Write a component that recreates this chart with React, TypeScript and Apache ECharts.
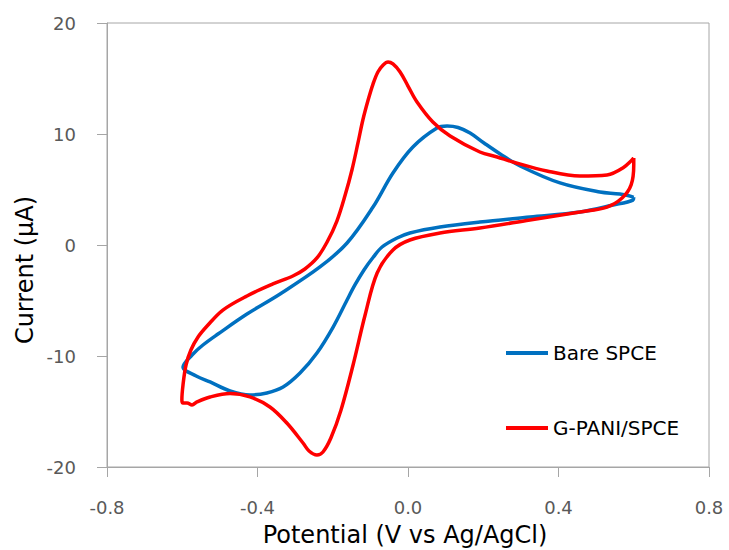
import React, { useEffect, useRef } from "react";
import * as echarts from "echarts";

// Cyclic voltammograms: potential (V vs Ag/AgCl) and current (µA), one full sweep each,
// starting at the +0.6 V vertex, running the cathodic branch, then the anodic branch back.
const bareV = [0.6, 0.598, 0.545, 0.457, 0.324, 0.191, 0.085, 0.005, -0.029, -0.069, -0.092, -0.117, -0.141, -0.162, -0.199, -0.242, -0.287, -0.332, -0.375, -0.42, -0.473, -0.526, -0.563, -0.598, -0.574, -0.545, -0.505, -0.428, -0.34, -0.234, -0.162, -0.093, -0.04, 0.013, 0.077, 0.104, 0.133, 0.165, 0.202, 0.245, 0.298, 0.404, 0.51, 0.563, 0.6];
const bareI = [4.3, 4.05, 3.6, 2.97, 2.52, 2.07, 1.62, 1.08, 0.63, -0.18, -1.08, -2.25, -3.6, -4.95, -7.39, -9.73, -11.53, -12.79, -13.33, -13.51, -13.15, -12.34, -11.8, -11.0, -9.91, -9.01, -8.02, -6.22, -4.41, -1.98, 0.18, 3.42, 6.49, 8.83, 10.54, 10.72, 10.59, 10.09, 9.19, 8.2, 7.12, 5.59, 4.77, 4.59, 4.3];

const gpaniV = [0.6, 0.6, 0.593, 0.569, 0.529, 0.457, 0.324, 0.191, 0.085, 0.005, -0.04, -0.082, -0.114, -0.146, -0.178, -0.205, -0.226, -0.242, -0.263, -0.279, -0.322, -0.367, -0.42, -0.473, -0.526, -0.561, -0.574, -0.587, -0.598, -0.601, -0.598, -0.59, -0.577, -0.558, -0.534, -0.492, -0.428, -0.359, -0.306, -0.274, -0.242, -0.215, -0.189, -0.167, -0.149, -0.133, -0.12, -0.106, -0.093, -0.08, -0.066, -0.053, -0.04, -0.021, 0.0, 0.024, 0.066, 0.112, 0.191, 0.237, 0.279, 0.369, 0.457, 0.529, 0.571, 0.6];
const gpaniI = [7.84, 7.21, 5.41, 4.23, 3.42, 2.97, 2.25, 1.53, 1.08, 0.45, -0.45, -2.52, -6.31, -10.81, -14.86, -17.39, -18.65, -18.92, -18.56, -17.84, -16.04, -14.59, -13.69, -13.38, -13.69, -14.14, -14.41, -14.23, -14.23, -13.96, -12.61, -10.81, -9.46, -8.29, -7.3, -5.86, -4.59, -3.51, -2.79, -2.16, -1.17, 0.27, 2.16, 4.5, 6.76, 9.19, 11.26, 13.06, 14.5, 15.59, 16.22, 16.49, 16.31, 15.59, 14.32, 12.88, 11.08, 9.82, 8.38, 7.93, 7.48, 6.67, 6.22, 6.31, 6.94, 7.84];

const seriesNames = ["Bare SPCE", "G-PANI/SPCE"];
const seriesColors = ["#0070C0", "#FF0000"];

const xTitle = "Potential (V vs Ag/AgCl)";
const yTitle = "Current (\u03BCA)";

const zip = (xs: number[], ys: number[]) => xs.map((x, i) => [x, ys[i]]);

const FONT = "'DejaVu Sans', 'Noto Sans', sans-serif";
const AXIS_GRAY = "#A6A6A6";
const LABEL_GRAY = "#595959";

export default function App() {
  const ref = useRef<HTMLDivElement>(null);

  useEffect(() => {
    if (!ref.current) return;
    const chart = echarts.init(ref.current, undefined, { renderer: "svg" });

    const lineSeries = (name: string, color: string, data: number[][]) => ({
      name,
      type: "line",
      data,
      showSymbol: false,
      symbol: "none",
      smooth: 0.35,
      color,
      lineStyle: { color, width: 3.5 },
    });

    chart.setOption({
      animation: false,
      backgroundColor: "#ffffff",
      textStyle: { fontFamily: FONT },
      grid: {
        left: 107,
        right: 20,
        top: 23,
        bottom: 83,
        show: true,
        borderColor: AXIS_GRAY,
        borderWidth: 1,
      },
      legend: {
        orient: "vertical",
        left: 506,
        top: 342,
        padding: 0,
        itemGap: 53,
        itemWidth: 42,
        itemHeight: 4,
        icon: "rect",
        textStyle: { fontSize: 20, color: "#000", lineHeight: 22, fontFamily: FONT },
        data: seriesNames,
      },
      xAxis: {
        type: "value",
        min: -0.8,
        max: 0.8,
        interval: 0.4,
        axisLine: { show: true, onZero: false, lineStyle: { color: AXIS_GRAY, width: 1 } },
        axisTick: { show: true, length: 10, lineStyle: { color: AXIS_GRAY } },
        splitLine: { show: false },
        axisLabel: {
          margin: 31,
          fontSize: 18,
          color: LABEL_GRAY,
          fontFamily: FONT,
          formatter: (v: number) => v.toFixed(1),
        },
      },
      yAxis: {
        type: "value",
        min: -20,
        max: 20,
        interval: 10,
        axisLine: { show: true, onZero: false, lineStyle: { color: AXIS_GRAY, width: 1 } },
        axisTick: { show: true, length: 10, lineStyle: { color: AXIS_GRAY } },
        splitLine: { show: false },
        axisLabel: { margin: 31, fontSize: 18, color: LABEL_GRAY, fontFamily: FONT },
      },
      graphic: [
        {
          type: "text",
          x: 405,
          y: 535,
          style: {
            text: xTitle,
            fontSize: 24,
            fontFamily: FONT,
            fill: "#000",
            textAlign: "center",
            textVerticalAlign: "middle",
          },
        },
        {
          type: "text",
          x: 25,
          y: 270,
          rotation: Math.PI / 2,
          style: {
            text: yTitle,
            fontSize: 24,
            fontFamily: FONT,
            fill: "#000",
            textAlign: "center",
            textVerticalAlign: "middle",
          },
        },
      ],
      series: [
        lineSeries(seriesNames[0], seriesColors[0], zip(bareV, bareI)),
        lineSeries(seriesNames[1], seriesColors[1], zip(gpaniV, gpaniI)),
      ],
    });

    return () => chart.dispose();
  }, []);

  return <div ref={ref} style={{ width: 729, height: 550, position: "absolute", left: 0, top: 0 }} />;
}
